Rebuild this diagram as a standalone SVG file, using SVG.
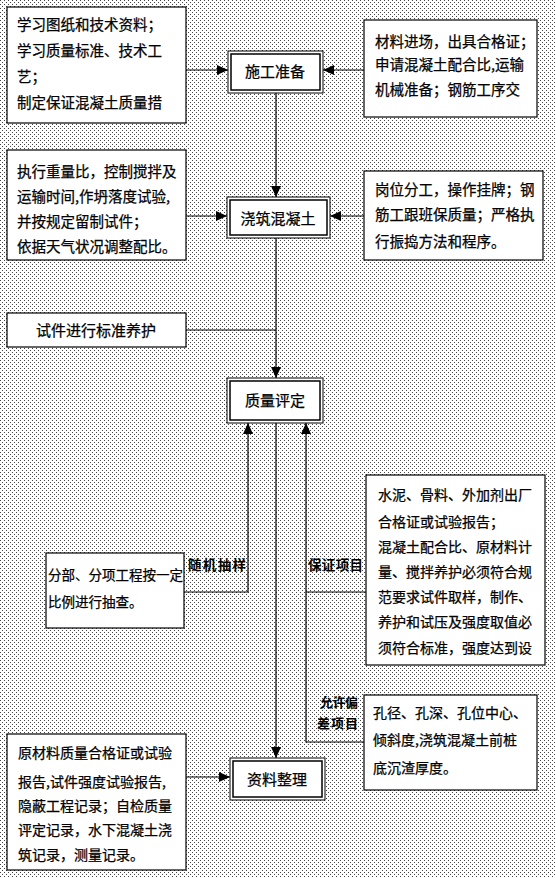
<svg xmlns="http://www.w3.org/2000/svg" width="555" height="878" viewBox="0 0 555 878">
<defs>
<pattern id="dots" width="4" height="4" patternUnits="userSpaceOnUse">
<rect width="4" height="4" fill="#ffffff"/>
<rect x="0" y="0" width="1" height="1" fill="#444"/>
<rect x="2" y="2" width="1" height="1" fill="#444"/>
</pattern>
<marker id="arr" markerWidth="12" markerHeight="10" refX="11" refY="5" orient="auto" markerUnits="userSpaceOnUse">
<path d="M0,0 L11,5 L0,10 Z" fill="#000"/>
</marker>
<style>
.box{fill:#fff;stroke:#000;stroke-width:1.2}
.dbl{fill:#fff;stroke:#000;stroke-width:1}
.dbli{fill:none;stroke:#000;stroke-width:1.5}
text{font-family:"Noto Sans CJK SC","Noto Sans CJK TC",sans-serif;fill:#000;stroke:#000;stroke-width:0.25}
.t{font-size:14.5px}
.s{font-size:14px}
.c{font-size:15px;text-anchor:middle}
.lbl{font-size:13.5px;font-weight:bold;stroke:none}
.con{fill:none;stroke:#000;stroke-width:1.2}
</style>
</defs>
<rect width="555" height="878" fill="url(#dots)"/>

<g id="connectors">
<path class="con" d="M186,70 H228" marker-end="url(#arr)"/>
<path class="con" d="M364,70 H323" marker-end="url(#arr)"/>
<path class="con" d="M276,93 V197" marker-end="url(#arr)"/>
<path class="con" d="M186,216 H227" marker-end="url(#arr)"/>
<path class="con" d="M364,216 H330" marker-end="url(#arr)"/>
<path class="con" d="M276,238 V378" marker-end="url(#arr)"/>
<path class="con" d="M186,330 H276"/>
<path class="con" d="M184,592 H248 V423" marker-end="url(#arr)"/>
<path class="con" d="M364,742 H306 V423" marker-end="url(#arr)"/>
<path class="con" d="M366,592 H306"/>
<path class="con" d="M276,423 V758" marker-end="url(#arr)"/>
<path class="con" d="M186,777 H230" marker-end="url(#arr)"/>
<text class="lbl" x="188" y="570" textLength="58">随机抽样</text>
<text class="lbl" x="308" y="570" textLength="55">保证项目</text>
<text class="lbl" x="320" y="707" style="font-size:13px" textLength="38">允许偏</text>
<text class="lbl" x="317" y="728" style="font-size:13px" textLength="41">差项目</text>
</g>

<g id="n-tl">
<rect class="box" x="7" y="7" width="179" height="116"/>
<text class="t" x="17" y="30">学习图纸和技术资料；</text>
<text class="t" x="17" y="56">学习质量标准、技术工</text>
<text class="t" x="17" y="82">艺；</text>
<text class="t" x="17" y="108">制定保证混凝土质量措</text>
</g>

<g id="n-prep">
<rect class="dbl" x="228" y="51" width="95" height="42"/>
<rect class="dbli" x="231" y="54" width="89" height="36"/>
<text class="c" x="275" y="77">施工准备</text>
</g>

<g id="n-tr">
<rect class="box" x="364" y="20" width="173" height="97"/>
<text class="t" x="375" y="47">材料进场，出具合格证；</text>
<text class="t" x="375" y="70">申请混凝土配合比,运输</text>
<text class="t" x="375" y="95">机械准备；钢筋工序交</text>
</g>

<g id="n-l2">
<rect class="box" x="7" y="150" width="179" height="110"/>
<text class="t" x="17" y="177">执行重量比，控制搅拌及</text>
<text class="t" x="17" y="202">运输时间,作坍落度试验,</text>
<text class="t" x="17" y="227">并按规定留制试件；</text>
<text class="t" x="17" y="252">依据天气状况调整配比。</text>
</g>

<g id="n-pour">
<rect class="dbl" x="227" y="197" width="103" height="41"/>
<rect class="dbli" x="230" y="200" width="97" height="35"/>
<text class="c" x="278" y="224">浇筑混凝土</text>
</g>

<g id="n-r2">
<rect class="box" x="364" y="171" width="179" height="89"/>
<text class="t" x="375" y="195">岗位分工，操作挂牌；钢</text>
<text class="t" x="375" y="220">筋工跟班保质量；严格执</text>
<text class="t" x="375" y="247">行振捣方法和程序。</text>
</g>

<g id="n-cure">
<rect class="box" x="7" y="313" width="179" height="34"/>
<text class="c" x="96" y="336">试件进行标准养护</text>
</g>

<g id="n-eval">
<rect class="dbl" x="227" y="378" width="96" height="45"/>
<rect class="dbli" x="230" y="381" width="90" height="39"/>
<text class="c" x="275" y="406">质量评定</text>
</g>

<g id="n-spot">
<rect class="box" x="46" y="553" width="138" height="75"/>
<text x="48" y="580" style="font-size:13.5px">分部、分项工程按一定</text>
<text x="48" y="607" style="font-size:13.5px">比例进行抽查。</text>
</g>

<g id="n-r3">
<rect class="box" x="366" y="475" width="179" height="190"/>
<text class="s" x="378" y="500">水泥、骨料、外加剂出厂</text>
<text class="s" x="378" y="527">合格证或试验报告；</text>
<text class="s" x="378" y="552">混凝土配合比、原材料计</text>
<text class="s" x="378" y="577">量、搅拌养护必须符合规</text>
<text class="s" x="378" y="602">范要求试件取样，制作、</text>
<text class="s" x="378" y="627">养护和试压及强度取值必</text>
<text class="s" x="378" y="653">须符合标准，强度达到设</text>
</g>

<g id="n-r4">
<rect class="box" x="364" y="695" width="173" height="95"/>
<text class="s" x="373" y="718">孔径、孔深、孔位中心、</text>
<text class="s" x="373" y="745">倾斜度,浇筑混凝土前桩</text>
<text class="s" x="373" y="773">底沉渣厚度。</text>
</g>

<g id="n-docs">
<rect class="dbl" x="230" y="758" width="95" height="42"/>
<rect class="dbli" x="233" y="761" width="89" height="36"/>
<text class="c" x="277" y="785">资料整理</text>
</g>

<g id="n-bl">
<rect class="box" x="7" y="734" width="179" height="136"/>
<text class="s" x="18" y="758">原材料质量合格证或试验</text>
<text class="s" x="18" y="787">报告,试件强度试验报告,</text>
<text class="s" x="18" y="811">隐蔽工程记录；自检质量</text>
<text class="s" x="18" y="835">评定记录，水下混凝土浇</text>
<text class="s" x="18" y="860">筑记录，测量记录。</text>
</g>
</svg>
